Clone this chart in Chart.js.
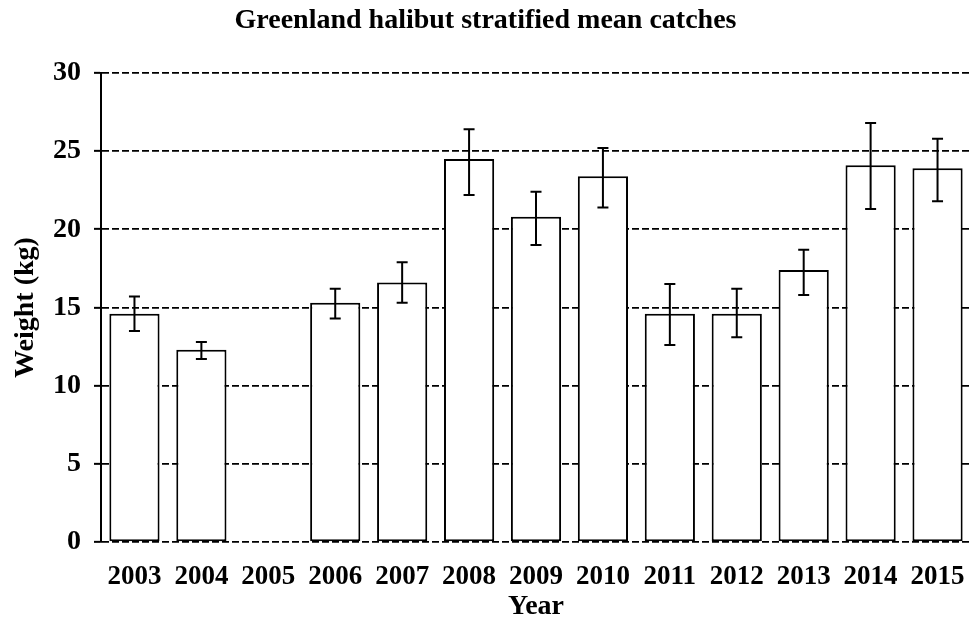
<!DOCTYPE html>
<html>
<head>
<meta charset="utf-8">
<script src="https://cdn.jsdelivr.net/npm/chart.js@4/dist/chart.umd.min.js"></script>
<style>
  html, body { margin: 0; padding: 0; background: #fff; }
  #wrap { width: 971px; height: 630px; }
</style>
</head>
<body>
<div id="wrap"><canvas id="chart" width="971" height="630"></canvas></div>
<script>
const years = ["2003", "2004", "2005", "2006", "2007", "2008", "2009", "2010", "2011", "2012", "2013", "2014", "2015"];
const meanWeight = [14.6, 12.3, null, 15.3, 16.6, 24.5, 20.8, 23.4, 14.6, 14.6, 17.4, 24.1, 23.9];
const errLow = [13.5, 11.7, null, 14.3, 15.3, 22.2, 19.0, 21.4, 12.6, 13.1, 15.8, 21.3, 21.8];
const errHigh = [15.7, 12.8, null, 16.2, 17.9, 26.4, 22.4, 25.2, 16.5, 16.2, 18.7, 26.8, 25.8];

const serif = "'Liberation Serif', 'Times New Roman', serif";

// error bars drawn on top of the bars, through the y scale
const errorBars = {
  id: "errorBars",
  afterDatasetsDraw(chart) {
    const ctx = chart.ctx;
    const meta = chart.getDatasetMeta(0);
    const y = chart.scales.y;
    ctx.save();
    ctx.strokeStyle = "#000";
    ctx.lineWidth = 2;
    meta.data.forEach((bar, i) => {
      if (meanWeight[i] == null) return;
      const x = bar.x;
      const top = y.getPixelForValue(errHigh[i]);
      const bot = y.getPixelForValue(errLow[i]);
      ctx.beginPath();
      ctx.moveTo(x, top);
      ctx.lineTo(x, bot);
      ctx.moveTo(x - 5.5, top);
      ctx.lineTo(x + 5.5, top);
      ctx.moveTo(x - 5.5, bot);
      ctx.lineTo(x + 5.5, bot);
      ctx.stroke();
    });
    ctx.restore();
  },
};

new Chart(document.getElementById("chart"), {
  type: "bar",
  data: {
    labels: years,
    datasets: [
      {
        label: "Weight",
        data: meanWeight,
        backgroundColor: "#fff",
        borderColor: "#000",
        borderWidth: 2,
        borderSkipped: false,
        barPercentage: 0.75,
        categoryPercentage: 1,
      },
    ],
  },
  options: {
    responsive: false,
    animation: false,
    layout: { padding: { left: 0, right: 0, top: 0, bottom: 0 } },
    plugins: {
      legend: { display: false },
      tooltip: { enabled: false },
      title: {
        display: true,
        text: "Greenland halibut stratified mean catches",
        color: "#000",
        font: { family: serif, size: 28, weight: "bold" },
        padding: { top: 4, bottom: 35.4 },
      },
    },
    scales: {
      x: {
        grid: { display: false, drawTicks: false, tickLength: 0 },
        border: { display: false },
        afterFit: (scale) => {
          scale.paddingRight = 0;
          scale.height = 88;
        },
        ticks: {
          color: "#000",
          padding: 22,
          maxRotation: 0,
          font: { family: serif, size: 27, weight: "bold", lineHeight: 1 },
        },
        title: {
          display: true,
          text: "Year",
          color: "#000",
          font: { family: serif, size: 28, weight: "bold" },
          padding: { top: 0, bottom: 6 },
        },
      },
      y: {
        min: 0,
        max: 30,
        ticks: {
          stepSize: 5,
          color: "#000",
          padding: 13,
          font: { family: serif, size: 28, weight: "bold" },
        },
        grid: {
          color: "#000",
          lineWidth: 1.7,
          drawTicks: true,
          tickLength: 7,
          tickColor: "#000",
          tickWidth: 2,
          tickBorderDash: [],
        },
        border: { display: true, color: "#000", width: 2, dash: [7, 3] },
        title: {
          display: true,
          text: "Weight (kg)",
          color: "#000",
          font: { family: serif, size: 28, weight: "bold", lineHeight: 1 },
          padding: { top: 12, bottom: 0 },
        },
      },
    },
  },
  plugins: [errorBars],
});
</script>
</body>
</html>
